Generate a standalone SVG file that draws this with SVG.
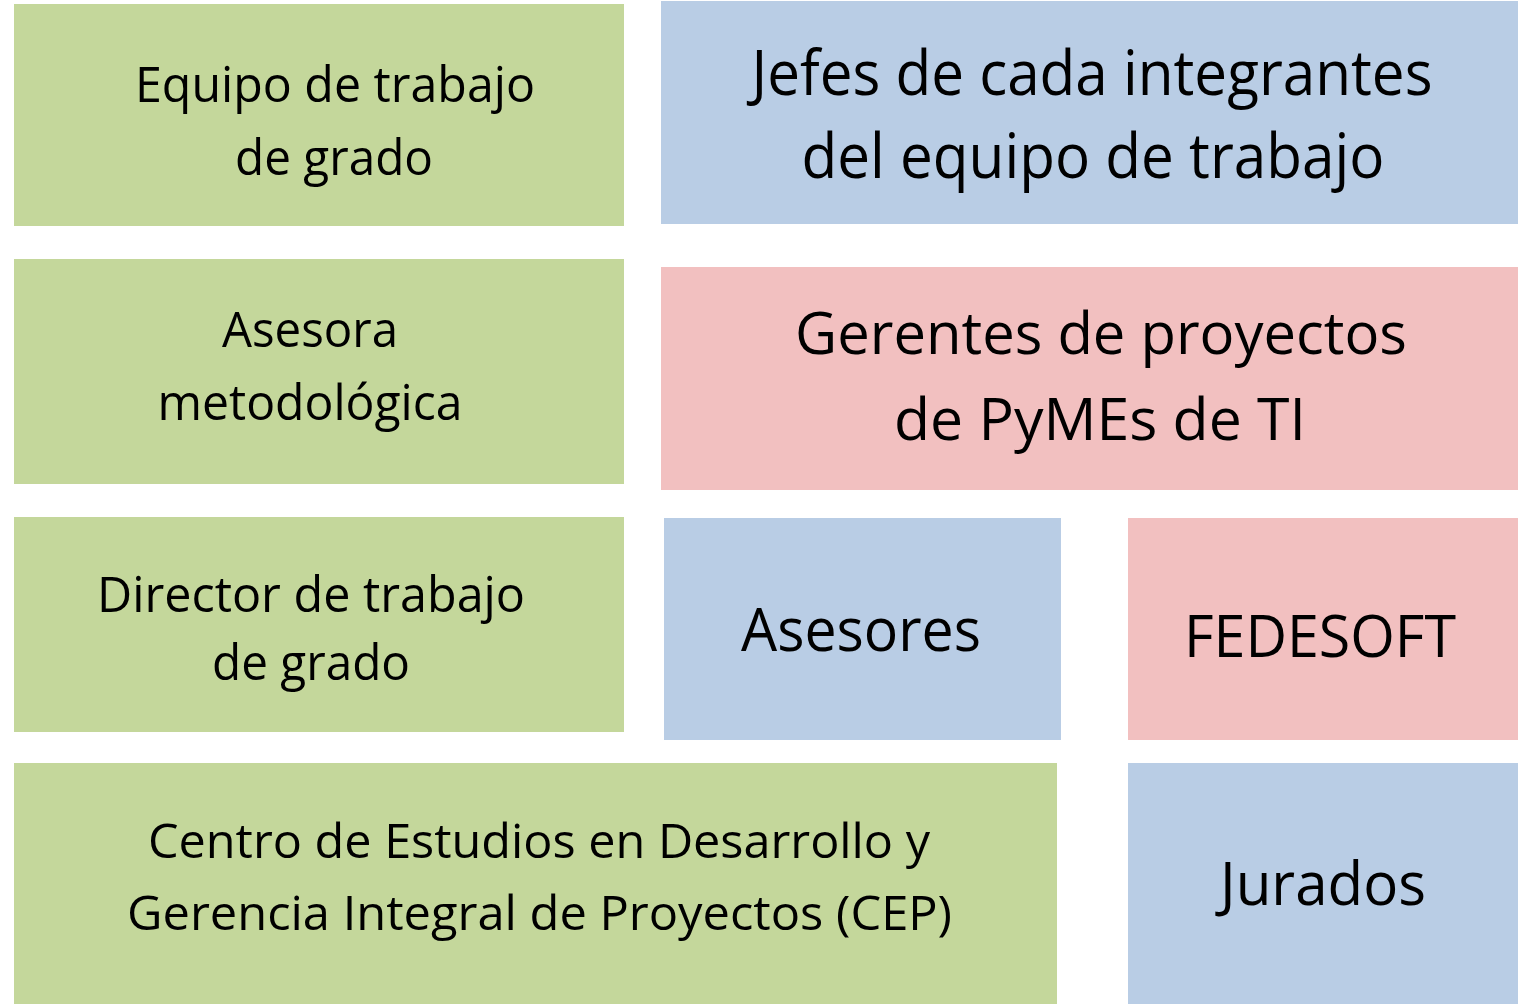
<svg xmlns="http://www.w3.org/2000/svg" width="1518" height="1004" viewBox="0 0 1518 1004">
<style>
.g{fill:#C4D79B}.b{fill:#B9CDE5}.p{fill:#F2C0C0}
text{font-family:"Open Sans","Liberation Sans",sans-serif;fill:#000;text-anchor:middle}
</style>
<rect width="1518" height="1004" fill="#fff"/>
<g id="equipo"><rect class="g" x="14" y="4" width="610" height="222"/>
<text x="335" y="102" font-size="50" textLength="400" lengthAdjust="spacingAndGlyphs">Equipo de trabajo</text>
<text x="334" y="175" font-size="50" textLength="198" lengthAdjust="spacingAndGlyphs">de grado</text></g>
<g id="jefes"><rect class="b" x="661" y="1" width="857" height="223"/>
<text x="1092" y="95" font-size="62" textLength="681" lengthAdjust="spacingAndGlyphs">Jefes de cada integrantes</text>
<text x="1093" y="178" font-size="62" textLength="583" lengthAdjust="spacingAndGlyphs">del equipo de trabajo</text></g>
<g id="asesora"><rect class="g" x="14" y="259" width="610" height="225"/>
<text x="310" y="347" font-size="50" textLength="176" lengthAdjust="spacingAndGlyphs">Asesora</text>
<text x="310" y="420" font-size="50" textLength="305" lengthAdjust="spacingAndGlyphs">metodológica</text></g>
<g id="gerentes"><rect class="p" x="661" y="267" width="857" height="223"/>
<text x="1101" y="354" font-size="59" textLength="612" lengthAdjust="spacingAndGlyphs">Gerentes de proyectos</text>
<text x="1100" y="440" font-size="59" textLength="412" lengthAdjust="spacingAndGlyphs">de PyMEs de TI</text></g>
<g id="director"><rect class="g" x="14" y="517" width="610" height="215"/>
<text x="311" y="612" font-size="50" textLength="428" lengthAdjust="spacingAndGlyphs">Director de trabajo</text>
<text x="311" y="680" font-size="50" textLength="198" lengthAdjust="spacingAndGlyphs">de grado</text></g>
<g id="asesores"><rect class="b" x="664" y="518" width="397" height="222"/>
<text x="861" y="651" font-size="61" textLength="240" lengthAdjust="spacingAndGlyphs">Asesores</text></g>
<g id="fedesoft"><rect class="p" x="1128" y="518" width="390" height="222"/>
<text x="1320" y="657" font-size="59" textLength="272" lengthAdjust="spacingAndGlyphs">FEDESOFT</text></g>
<g id="cep"><rect class="g" x="14" y="763" width="1043" height="241"/>
<text x="539" y="858" font-size="48" textLength="782" lengthAdjust="spacingAndGlyphs">Centro de Estudios en Desarrollo y</text>
<text x="539.5" y="930" font-size="48" textLength="825" lengthAdjust="spacingAndGlyphs">Gerencia Integral de Proyectos (CEP)</text></g>
<g id="jurados"><rect class="b" x="1128" y="763" width="390" height="241"/>
<text x="1323" y="905" font-size="60" textLength="206" lengthAdjust="spacingAndGlyphs">Jurados</text></g>
<g id="connectors"></g>
</svg>
